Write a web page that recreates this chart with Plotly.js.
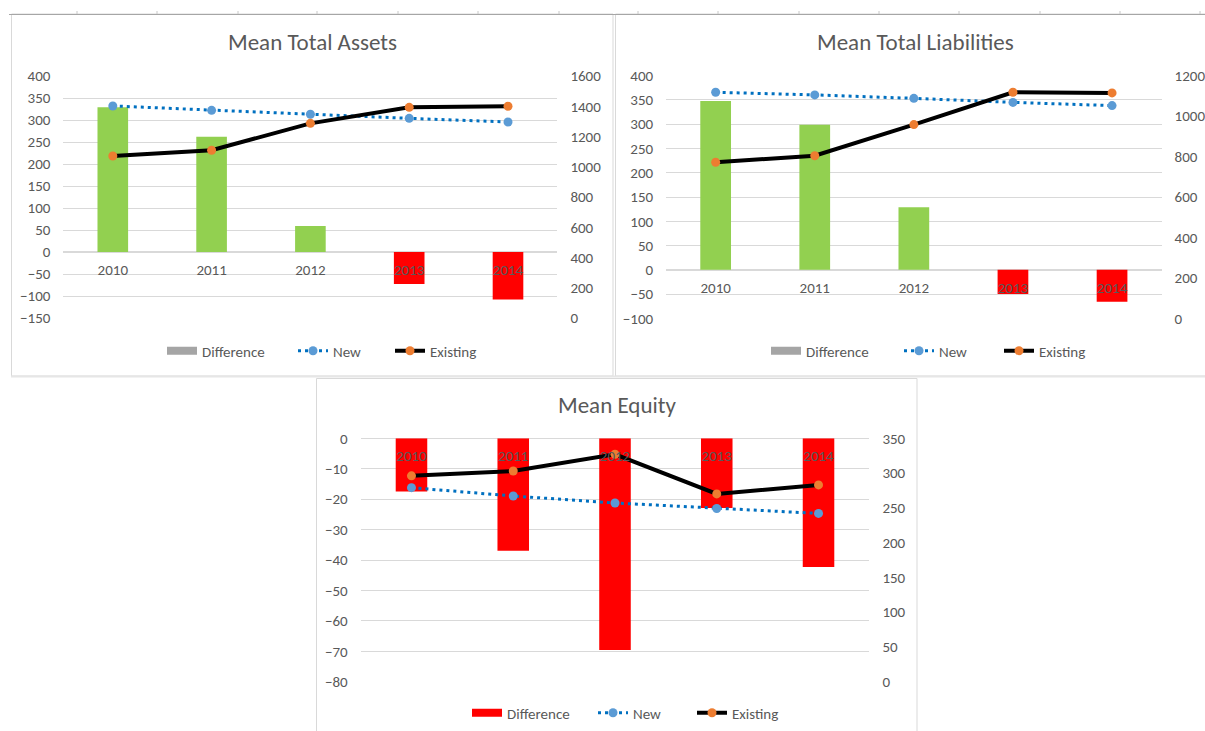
<!DOCTYPE html>
<html>
<head>
<meta charset="utf-8">
<script src="https://cdn.plot.ly/plotly-3.0.1.min.js"></script>
<style>
  html, body { margin: 0; padding: 0; background: #ffffff; }
  #chart { width: 1205px; height: 731px; }
</style>
</head>
<body>
<div id="chart"></div>
<script>
// ---------- data ----------
const years = ['2010', '2011', '2012', '2013', '2014'];

const assetsDiff     = [329, 262, 59, -73, -108];
const assetsNew      = [1402, 1373, 1347, 1320, 1296];
const assetsExisting = [1071, 1109, 1287, 1393, 1400];

const liabDiff     = [348, 299, 129, -50, -66];
const liabNew      = [1118, 1105, 1088, 1068, 1052];
const liabExisting = [772, 804, 958, 1118, 1115];

const equityDiff     = [-17.5, -37, -69.6, -22.9, -42.3];
const equityNew      = [279, 267, 257, 249, 242];
const equityExisting = [296, 303, 327, 270, 283];

const panelTitles = ['Mean Total Assets', 'Mean Total Liabilities', 'Mean Equity'];
const seriesNames = ['Difference', 'New', 'Existing'];

// ---------- styling / layout helpers ----------
const W = 1205, H = 731;
const px = x => x / W;
const py = y => 1 - y / H;
const FONT = 'Carlito, Calibri, Lato, "Open Sans", sans-serif';
const TXT = '#595959';
const GRID = '#D9D9D9';
const GREEN = '#92D050', RED = '#FF0000';
const barColors = vals => vals.map(v => (v >= 0 ? GREEN : RED));

const panels = [
  { diff: assetsDiff, nw: assetsNew, ex: assetsExisting,
    xd: [63.4, 557.4], yd: [76, 318], left: [-150, 400], ldt: 50, right: [0, 1600], rdt: 200,
    title: [312, 42], legY: 351, legX: [197, 328, 425], legendColor: '#A5A5A5' },
  { diff: liabDiff, nw: liabNew, ex: liabExisting,
    xd: [666.1, 1161.6], yd: [75.7, 318.3], left: [-100, 400], ldt: 50, right: [0, 1200], rdt: 200,
    title: [915, 42], legY: 351, legX: [801, 934, 1034], legendColor: '#A5A5A5' },
  { diff: equityDiff, nw: equityNew, ex: equityExisting,
    xd: [360.6, 869.4], yd: [438.3, 681.7], left: [-80, 0], ldt: 10, right: [0, 350], rdt: 50,
    title: [617, 405], legY: 713, legX: [502, 628, 727], legendColor: RED }
];

const traces = [];
const layout = {
  width: W, height: H,
  margin: { l: 0, r: 0, t: 0, b: 0, pad: 0 },
  paper_bgcolor: '#ffffff', plot_bgcolor: 'rgba(0,0,0,0)',
  font: { family: FONT, color: TXT, size: 15 },
  bargap: 0.69,
  showlegend: true,
  annotations: [],
  shapes: []
};

let legCount = 0;
const makeLegend = (xEndOfSwatch, yMid) => {
  legCount += 1;
  const key = legCount === 1 ? 'legend' : 'legend' + legCount;
  layout[key] = {
    x: px(xEndOfSwatch - 35), y: py(yMid),
    xanchor: 'left', yanchor: 'middle',
    orientation: 'h', bgcolor: 'rgba(0,0,0,0)', borderwidth: 0,
    font: { family: FONT, size: 15, color: TXT },
    itemclick: false, itemdoubleclick: false,
    tracegroupgap: 0, itemwidth: 30
  };
  return key;
};

panels.forEach((p, i) => {
  const n = i + 1;
  const xa = n === 1 ? 'x' : 'x' + n;
  const yl = 'y' + (2 * i + 1 === 1 ? '' : 2 * i + 1);
  const yr = 'y' + (2 * i + 2);
  const xKey = n === 1 ? 'xaxis' : 'xaxis' + n;
  const ylKey = 'yaxis' + (2 * i + 1 === 1 ? '' : 2 * i + 1);
  const yrKey = 'yaxis' + (2 * i + 2);

  const yDom = [py(p.yd[1]), py(p.yd[0])];
  const zeroPos = yDom[0] + (0 - p.left[0]) / (p.left[1] - p.left[0]) * (yDom[1] - yDom[0]);

  layout[xKey] = {
    domain: [px(p.xd[0]), px(p.xd[1])],
    anchor: 'free', position: zeroPos,
    type: 'category', range: [-0.5, 4.5],
    showgrid: false, zeroline: false, showline: false, ticks: '',
    tickfont: { family: FONT, size: 15, color: TXT },
    ticklabelstandoff: 7,
    fixedrange: true
  };
  layout[ylKey] = {
    domain: yDom, anchor: xa,
    range: p.left, dtick: p.ldt, tick0: 0,
    showgrid: true, gridcolor: GRID, gridwidth: 1,
    zeroline: true, zerolinecolor: GRID, zerolinewidth: 1.5,
    showline: false, ticks: '',
    tickfont: { family: FONT, size: 15, color: TXT },
    ticklabelstandoff: 12,
    fixedrange: true
  };
  layout[yrKey] = {
    domain: yDom, anchor: xa, overlaying: yl, side: 'right',
    range: p.right, dtick: p.rdt, tick0: 0,
    showgrid: false, zeroline: false, showline: false, ticks: '',
    tickfont: { family: FONT, size: 15, color: TXT },
    ticklabelstandoff: 12,
    fixedrange: true
  };

  const legD = makeLegend(p.legX[0], p.legY);
  const legN = makeLegend(p.legX[1], p.legY);
  const legE = makeLegend(p.legX[2], p.legY);

  // bars (left axis)
  traces.push({
    type: 'bar', x: years, y: p.diff, xaxis: xa, yaxis: yl,
    name: seriesNames[0], showlegend: false,
    marker: { color: barColors(p.diff), line: { width: 0 } },
    hoverinfo: 'skip'
  });
  // legend swatch for Difference (wide rectangle like the original)
  traces.push({
    type: 'scatter', mode: 'lines', x: [null], y: [null], xaxis: xa, yaxis: yl,
    name: seriesNames[0], legend: legD, showlegend: true,
    line: { color: p.legendColor, width: 8 }, hoverinfo: 'skip'
  });
  // New (right axis)
  traces.push({
    type: 'scatter', mode: 'lines+markers', x: years, y: p.nw, xaxis: xa, yaxis: yr,
    name: seriesNames[1], legend: legN,
    line: { color: '#0070C0', width: 3, dash: '3px,4px' },
    marker: { color: '#5B9BD5', size: 9 },
    hoverinfo: 'skip'
  });
  // Existing (right axis)
  traces.push({
    type: 'scatter', mode: 'lines+markers', x: years, y: p.ex, xaxis: xa, yaxis: yr,
    name: seriesNames[2], legend: legE,
    line: { color: '#000000', width: 4 },
    marker: { color: '#ED7D31', size: 9 },
    hoverinfo: 'skip'
  });

  layout.annotations.push({
    text: panelTitles[i], xref: 'paper', yref: 'paper',
    x: px(p.title[0]), y: py(p.title[1]), xanchor: 'center', yanchor: 'middle',
    showarrow: false, font: { family: FONT, size: 23, color: TXT }
  });
});

// chart frames (spreadsheet chart borders)
const frame = (x0, y0, x1, y1, color, w) => ({
  type: 'rect', xref: 'paper', yref: 'paper', layer: 'below',
  x0: px(x0), x1: px(x1), y0: py(y1), y1: py(y0),
  line: { color: color, width: w }, fillcolor: 'rgba(0,0,0,0)'
});
const seg = (x0, y0, x1, y1, color, w) => ({
  type: 'line', xref: 'paper', yref: 'paper', layer: 'below',
  x0: px(x0), x1: px(x1), y0: py(y0), y1: py(y1),
  line: { color: color, width: w }
});
layout.shapes.push(frame(11.5, 14, 613, 376, GRID, 1));
layout.shapes.push(frame(615.5, 14, 1212, 376, GRID, 1));
layout.shapes.push(seg(11, 376.5, 1205, 376.5, '#E6E6E6', 2));
layout.shapes.push(frame(316.5, 378.5, 917, 740, GRID, 1));
layout.shapes.push(seg(9, 14.5, 1205, 14.5, '#A6A6A6', 1));
[77, 157, 238, 317, 398, 478, 559, 638, 718, 799, 879, 959, 1040, 1120, 1200].forEach(x => {
  layout.shapes.push(seg(x, 11, x, 14, '#C8C8C8', 1));
});

Plotly.newPlot('chart', traces, layout, { staticPlot: true, displayModeBar: false });
</script>
</body>
</html>
